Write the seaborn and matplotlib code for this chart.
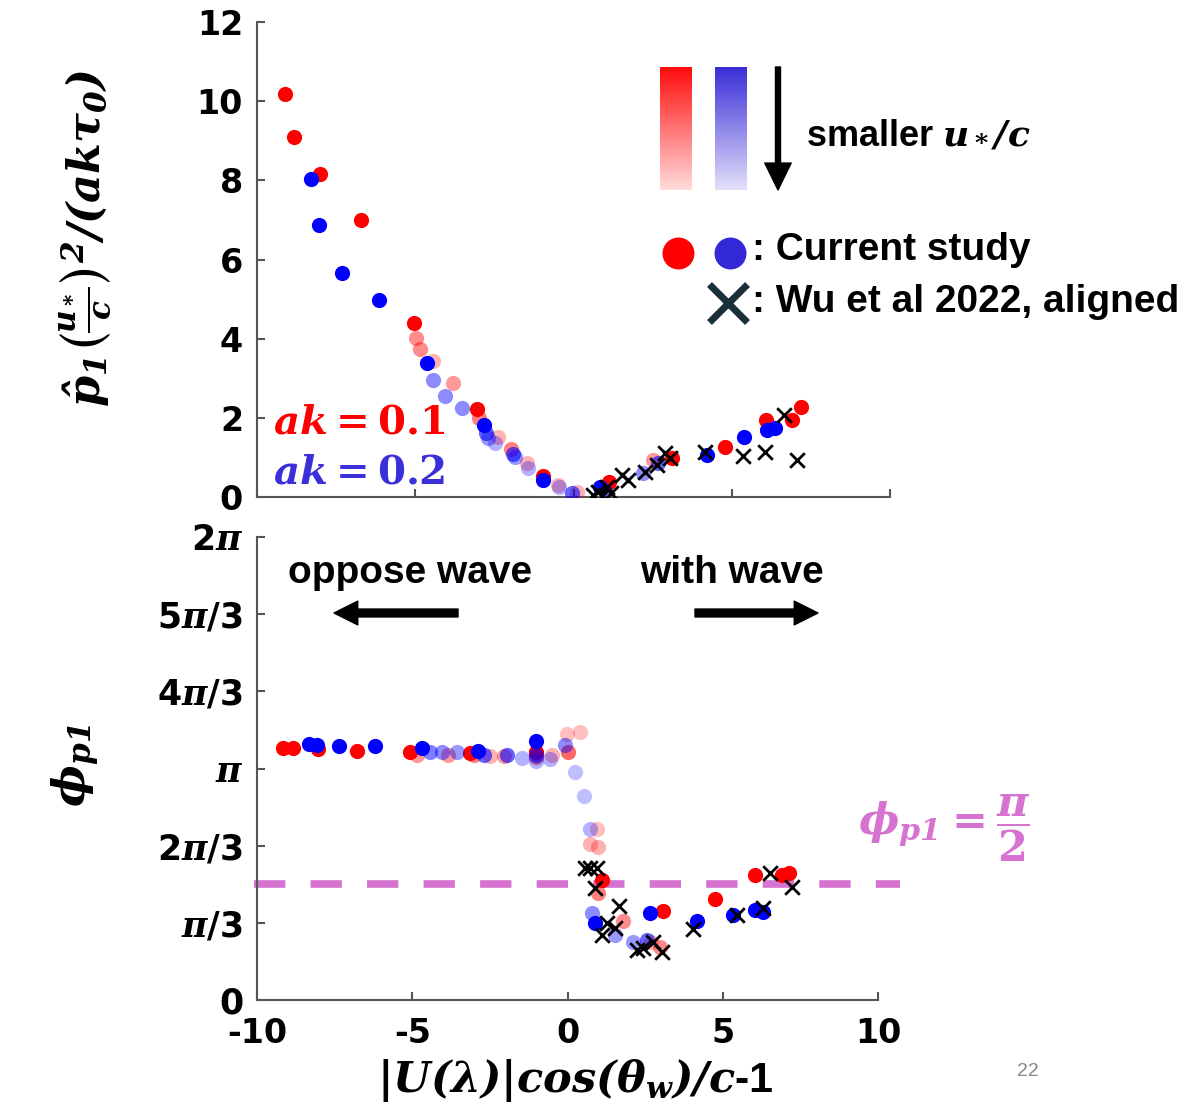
import numpy as np
import pandas as pd
import matplotlib
matplotlib.use('Agg')
import matplotlib.pyplot as plt
import seaborn as sns
from matplotlib.patches import FancyArrowPatch

# ---- data ----
# top panel: p1 amplitude, (x, y, shade)
top_red_x = [-9.12, -8.83, -8.00, -6.71, -5.04, -4.98, -4.85, -4.44, -3.81, -3.05, -3.00, -2.39,
             -1.97, -1.47, -0.96, -0.50, 0.11, 1.12, 2.50, 3.11, 4.79, 6.08, 6.90, 7.19]
top_red_y = [10.18, 9.09, 8.16, 7.00, 4.39, 4.02, 3.74, 3.43, 2.88, 2.22, 1.99, 1.51,
             1.21, 0.86, 0.53, 0.30, 0.13, 0.38, 0.93, 0.98, 1.26, 1.94, 1.94, 2.27]
top_red_a = [1, 1, 1, 1, 1, 0.45, 0.45, 0.3, 0.4, 1, 0.5, 0.3,
             0.5, 0.3, 1, 0.3, 0.3, 1, 0.4, 1, 1, 1, 1, 1]

top_blue_x = [-8.29, -8.04, -7.31, -6.15, -4.63, -4.44, -4.06, -3.52, -2.83, -2.77, -2.70, -2.48, -1.91,
              -1.85, -1.44, -0.96, -0.45, -0.05, 0.84, 1.00, 2.20, 2.67, 4.22, 5.39, 6.11, 6.37]
top_blue_y = [8.03, 6.87, 5.66, 4.97, 3.38, 2.95, 2.55, 2.25, 1.82, 1.61, 1.49, 1.36, 1.09,
              1.00, 0.73, 0.43, 0.25, 0.10, 0.25, 0.15, 0.60, 0.86, 1.06, 1.52, 1.69, 1.74]
top_blue_a = [1, 1, 1, 1, 1, 0.45, 0.45, 0.45, 1, 0.6, 0.4, 0.3, 0.6,
              0.4, 0.3, 1, 0.3, 0.6, 1, 0.6, 0.45, 0.6, 1, 1, 1, 1]

top_wu_x = [0.62, 0.77, 0.90, 1.06, 1.20, 1.53, 1.72, 2.26, 2.64, 2.89, 3.05, 4.15, 5.36, 6.05, 6.65, 7.06]
top_wu_y = [0.05, 0.13, 0.02, 0.25, 0.10, 0.56, 0.43, 0.63, 0.81, 1.11, 0.98, 1.14, 1.04, 1.14, 2.07, 0.93]

# bottom panel: phase in units of pi
bot_red_x = [-9.16, -8.84, -8.04, -6.78, -5.07, -4.85, -3.85, -3.14, -3.00, -2.50, -2.05, -1.01, -1.00,
             -0.50, 0.02, -0.02, 0.40, 0.95, 0.72, 0.98, 1.11, 0.98, 1.79, 3.08, 2.98, 2.70,
             4.75, 6.04, 6.91, 7.13]
bot_red_phi = [1.087, 1.087, 1.083, 1.077, 1.073, 1.060, 1.057, 1.067, 1.057, 1.053, 1.053, 1.070, 1.050,
               1.060, 1.073, 1.150, 1.157, 0.740, 0.673, 0.663, 0.517, 0.463, 0.340, 0.383, 0.230, 0.250,
               0.437, 0.540, 0.540, 0.547]
bot_red_a = [1, 1, 1, 1, 1, 0.4, 0.4, 1, 0.5, 0.3, 0.4, 1, 0.5,
             0.3, 0.6, 0.25, 0.25, 0.25, 0.3, 0.3, 1, 0.5, 0.45, 1, 0.45, 0.3,
             1, 1, 1, 1]

bot_blue_x = [-8.33, -8.07, -7.36, -6.20, -4.69, -4.43, -4.04, -3.56, -2.88, -2.70, -1.95, -1.47, -1.01,
              -1.00, -1.00, -0.55, -0.08, 0.24, 0.53, 0.72, 0.79, 0.89, 1.53, 2.11, 2.56, 2.66,
              4.17, 5.33, 6.04, 6.30]
bot_blue_phi = [1.107, 1.100, 1.097, 1.097, 1.087, 1.073, 1.073, 1.073, 1.077, 1.060, 1.060, 1.047, 1.117,
                1.057, 1.033, 1.043, 1.100, 0.983, 0.883, 0.740, 0.377, 0.333, 0.280, 0.250, 0.260, 0.377,
                0.343, 0.367, 0.387, 0.380]
bot_blue_a = [1, 1, 1, 1, 1, 0.5, 0.45, 0.4, 1, 0.6, 0.6, 0.3, 1,
              0.6, 0.3, 0.3, 0.45, 0.25, 0.25, 0.3, 0.45, 1, 0.4, 0.4, 0.6, 1,
              1, 1, 1, 1]

bot_wu_x = [0.56, 0.72, 0.95, 0.89, 1.66, 1.27, 1.53, 1.11, 2.24, 2.43, 2.75, 3.04, 4.04, 5.46, 6.30, 6.52, 7.23]
bot_wu_phi = [0.570, 0.570, 0.570, 0.483, 0.407, 0.333, 0.310, 0.280, 0.217, 0.223, 0.250, 0.207,
              0.307, 0.367, 0.397, 0.547, 0.487]

x_ticks = [-10, -5, 0, 5, 10]
top_yticks = [0, 2, 4, 6, 8, 10, 12]
phi_tick_labels = ['0', r'$\mathbfit{\pi}$/3', r'2$\mathbfit{\pi}$/3', r'$\mathbfit{\pi}$',
                   r'4$\mathbfit{\pi}$/3', r'5$\mathbfit{\pi}$/3', r'2$\mathbfit{\pi}$']

RED = '#ff0000'
BLUE = '#0000ff'
BLUE_TXT = '#3a2fd8'
PINK = '#d672cf'

sns.set_theme(style='white')
plt.rcParams['font.family'] = ['Liberation Sans', 'DejaVu Sans']
plt.rcParams['font.weight'] = 'bold'
plt.rcParams['mathtext.fontset'] = 'dejavuserif'
for k in ('text.color', 'axes.labelcolor', 'xtick.color', 'ytick.color'):
    plt.rcParams[k] = 'black'

W, H = 1203, 1117
fig = plt.figure(figsize=(W / 100, H / 100), dpi=100)
ax1 = fig.add_axes([257 / W, 1 - 497 / H, 633 / W, 475 / H])
ax2 = fig.add_axes([257 / W, 1 - 1000 / H, 621 / W, 463 / H])


def shaded_scatter(ax, xs, ys, alphas, color):
    df = pd.DataFrame({'x': xs, 'y': ys, 'a': alphas})
    for a in sorted(df['a'].unique(), reverse=True):
        sub = df[df['a'] == a]
        sns.scatterplot(data=sub, x='x', y='y', color=color, alpha=a, s=120,
                        linewidth=0, ax=ax, zorder=3)


def crosses(ax, xs, ys):
    sns.scatterplot(x=xs, y=ys, marker='x', color='black', s=110, linewidth=2,
                    ax=ax, zorder=4)


shaded_scatter(ax1, top_red_x, top_red_y, top_red_a, RED)
shaded_scatter(ax1, top_blue_x, top_blue_y, top_blue_a, BLUE)
crosses(ax1, top_wu_x, top_wu_y)

shaded_scatter(ax2, bot_red_x, np.array(bot_red_phi) * np.pi, bot_red_a, RED)
shaded_scatter(ax2, bot_blue_x, np.array(bot_blue_phi) * np.pi, bot_blue_a, BLUE)
crosses(ax2, bot_wu_x, np.array(bot_wu_phi) * np.pi)
ax2.axhline(np.pi / 2, xmin=-0.005, xmax=1.035, color=PINK, lw=5.5, dashes=(4.1, 3.3),
            clip_on=False, zorder=2)

for ax in (ax1, ax2):
    ax.set_xlim(-10, 10)
    ax.set_xticks(x_ticks)
    ax.set_xlabel('')
    ax.set_ylabel('')
    for s in ('top', 'right'):
        ax.spines[s].set_visible(False)
    for s in ('left', 'bottom'):
        ax.spines[s].set_color('#555555')
        ax.spines[s].set_linewidth(1.5)
    ax.tick_params(direction='in', length=6, width=1.5, color='#555555',
                   labelsize=24, pad=10, left=True, bottom=True, labelcolor='black')

ax1.set_ylim(0, 12)
ax1.set_yticks(top_yticks)
ax1.tick_params(axis='x', labelbottom=False)

ax2.set_ylim(0, 2 * np.pi)
ax2.set_yticks(np.arange(7) * np.pi / 3)
ax2.set_yticklabels(phi_tick_labels)
ax2.set_xticklabels([str(t) for t in x_ticks])
ax2.tick_params(axis='x', pad=12)
ax2.tick_params(axis='y', labelsize=25)

for ax in (ax1, ax2):
    for lab in ax.get_xticklabels() + ax.get_yticklabels():
        lab.set_fontfamily('DejaVu Sans')
        lab.set_fontweight('bold')

# overlay in pixel coordinates for annotations
ov = fig.add_axes([0, 0, 1, 1], zorder=5)
ov.axis('off')
ov.patch.set_alpha(0)

grad = np.linspace(1, 0.15, 100)[:, None]
red_img = np.zeros((100, 1, 4))
red_img[..., 0] = 1
red_img[..., 1] = 0.05
red_img[..., 2] = 0.05
red_img[..., 3] = grad
blue_img = np.zeros((100, 1, 4))
blue_img[..., 0] = 0.23
blue_img[..., 1] = 0.18
blue_img[..., 2] = 0.85
blue_img[..., 3] = grad
ov.imshow(red_img, extent=(660, 692, 190, 67), aspect='auto', interpolation='bilinear')
ov.imshow(blue_img, extent=(715, 747, 190, 67), aspect='auto', interpolation='bilinear')
ov.set_xlim(0, W)
ov.set_ylim(H, 0)


def arrow(p0, p1, tail, head_w, head_l, ms):
    ov.add_patch(FancyArrowPatch(p0, p1, shrinkA=0, shrinkB=0, color='black',
                                 arrowstyle=f'simple,head_length={head_l},head_width={head_w},tail_width={tail}',
                                 mutation_scale=ms))


arrow((778, 67), (778, 190), 0.18, 0.95, 0.97, 20)
arrow((458, 613), (334, 613), 0.3, 0.9, 0.9, 19)
arrow((695, 613), (818, 613), 0.3, 0.9, 0.9, 19)

ov.text(806, 135, r'smaller $\mathbfit{u_*/c}$', fontsize=26, va='center', ha='left')
ov.plot([678], [253], 'o', color=RED, ms=22)
ov.plot([730], [253], 'o', color='#3328d8', ms=22)
ov.plot([728], [303], 'x', color='#1b2f3b', ms=28, mew=5)
ov.text(752, 250, ': Current study', fontsize=28, va='center', ha='left')
ov.text(752, 302, ': Wu et al 2022, aligned', fontsize=28, va='center', ha='left')

ov.text(273, 422, r'$\mathbfit{ak} = \mathbf{0.1}$', color=RED, fontsize=29, va='center', ha='left')
ov.text(273, 472, r'$\mathbfit{ak} = \mathbf{0.2}$', color=BLUE_TXT, fontsize=29, va='center', ha='left')

ov.text(288, 573, 'oppose wave', fontsize=28, va='center', ha='left')
ov.text(640, 573, 'with wave', fontsize=28, va='center', ha='left')

ov.text(858, 828, r'$\mathbfit{\phi_{p1}} = \dfrac{\mathbfit{\pi}}{\mathbf{2}}$', color=PINK,
        fontsize=31, va='center', ha='left')

ov.text(86, 238, r'$\mathbfit{\hat{p}_1\left(\frac{u_*}{c}\right)^2/(ak\tau_0)}$',
        fontsize=32, rotation=90, va='center', ha='center')
ov.text(76, 766, r'$\mathbfit{\phi_{p1}}$', fontsize=32, rotation=90, va='center', ha='center')
ov.text(575, 1080, r'$\mathbfit{|U(\lambda)|cos(\theta_w)/c}$-1', fontsize=31, va='center', ha='center')
ov.text(1028, 1072, '22', fontsize=14, color='#888888', fontweight='normal', va='center', ha='center')

fig.savefig('out.png', dpi=100)
